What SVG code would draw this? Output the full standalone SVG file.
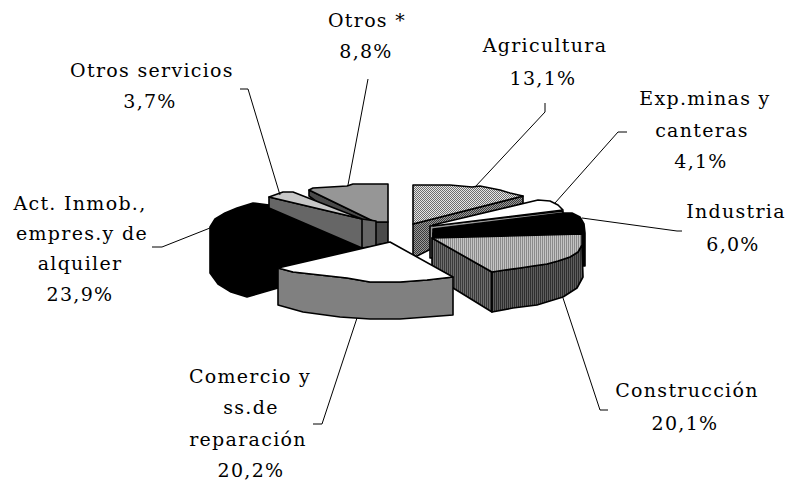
<svg xmlns="http://www.w3.org/2000/svg" width="790" height="484" viewBox="0 0 790 484">
<defs>
<pattern id="chkLight" width="2" height="2" patternUnits="userSpaceOnUse"><rect width="2" height="2" fill="#e6e6e6"/><rect width="1" height="1" fill="#6e6e6e"/><rect x="1" y="1" width="1" height="1" fill="#6e6e6e"/></pattern>
<pattern id="chkDark" width="2" height="2" patternUnits="userSpaceOnUse"><rect width="2" height="2" fill="#9a9a9a"/><rect width="1" height="1" fill="#3a3a3a"/><rect x="1" y="1" width="1" height="1" fill="#3a3a3a"/></pattern>
<pattern id="vLight" width="2" height="2" patternUnits="userSpaceOnUse"><rect width="2" height="2" fill="#c4c4c4"/><rect width="1" height="2" fill="#8a8a8a"/></pattern>
<pattern id="vDark" width="2" height="2" patternUnits="userSpaceOnUse"><rect width="2" height="2" fill="#6e6e6e"/><rect width="1" height="2" fill="#3a3a3a"/></pattern>
<pattern id="vDarker" width="2" height="2" patternUnits="userSpaceOnUse"><rect width="2" height="2" fill="#5e5e5e"/><rect width="1" height="2" fill="#2e2e2e"/></pattern>
</defs>
<style>
.o{stroke:#000;stroke-width:1.6;stroke-linejoin:round}
.t{font-family:"DejaVu Serif","Liberation Serif",serif;font-size:19px;letter-spacing:1.3px;fill:#000;text-anchor:middle}
.l{fill:none;stroke:#000;stroke-width:1}
</style>
<rect width="790" height="484" fill="#fff"/>

<g id="otros">
<polygon class="o" fill="#4a4a4a" points="309,190 375,222 388,222 388,243 375,245 309,196"/>
<line class="o" x1="375" y1="222" x2="375" y2="245"/>
<polygon class="o" fill="#969696" points="309,190 313,188 330,187 347,186 353,184 388,184 388,222 375,222"/>
</g>

<g id="agricultura">
<polygon class="o" fill="url(#chkDark)" points="413,224 523,196 523,203 413,258"/>
<polygon class="o" fill="url(#chkLight)" points="413,185 433,185 450,185 472,187 480,186 500,190 510,193 523,196 413,224"/>
</g>

<g id="exp-minas">
<polygon class="o" fill="#9a9a9a" points="430,226 563,211 563,216 433,233 433,258 430,258"/>
<polygon class="o" fill="#fff" points="433,225 538,200 550,201 558,205 563,210 433,226"/>
</g>

<g id="industria">
<polygon class="o" fill="#000" points="433,229 563,213 572,213 580,217 584,224 585,233 585,266 582,266 582,240 433,239"/>
</g>

<g id="construccion">
<polygon class="o" fill="url(#vDark)" points="432,238 492,272 492,312 432,275"/>
<polygon class="o" fill="url(#vDarker)" points="492,272 505,270 520,268 533,266 547,264 558,261 570,257 578,252 582,245 583,277 577,288 563,297 550,301 537,305 513,308 492,312"/>
<polyline fill="none" stroke="#fff" stroke-width="1.2" points="494,314 513,310 537,307 551,303 565,299 579,290 585,278 585,268"/>
<polygon class="o" fill="url(#vLight)" points="432,238 582,234 582,245 578,252 570,257 558,261 547,264 533,266 520,268 505,270 492,272"/>
</g>

<g id="act-inmob">
<polygon class="o" fill="#000" points="210,227 215,219 225,213 237,208 253,203 269,205 362,232 362,249 278,268 278,288 247,297 231,292 218,284 210,273"/>
</g>

<g id="otros-servicios">
<polygon class="o" fill="#666" points="269,197 362,219 376,221 376,246 362,248 269,208"/>
<line class="o" x1="362" y1="219" x2="362" y2="248"/>
<polygon class="o" fill="#c8c8c8" points="269,197 283,192 293,192 362,219"/>
</g>

<g id="comercio">
<polygon class="o" fill="#808080" points="278,268 293,272 320,275 347,278 370,282 400,282 427,280 453,277 453,315 427,317 400,319 370,319 340,317 303,312 278,305"/>
<polygon class="o" fill="#fff" points="278,268 390,242 453,277 427,280 400,282 370,282 347,278 320,275 293,272"/>
</g>

<g id="connectors">
<path class="l" d="M240,89 H248 L280,195"/>
<path class="l" d="M368,79 L348,185"/>
<path class="l" d="M545,103 V112 L475,187"/>
<path class="l" d="M627,132 H618 L555,203"/>
<path class="l" d="M582,218 L677,231 H682"/>
<path class="l" d="M152,247 H162 L210,228"/>
<path class="l" d="M563,298 L600,410 H608"/>
<path class="l" d="M357,318 L322,424 H313"/>
</g>

<g id="labels">
<text class="t" x="367" y="27">Otros *</text>
<text class="t" x="366" y="58">8,8%</text>
<text class="t" x="152" y="77">Otros servicios</text>
<text class="t" x="150" y="108">3,7%</text>
<text class="t" x="545" y="52">Agricultura</text>
<text class="t" x="543" y="85">13,1%</text>
<text class="t" x="705" y="105">Exp.minas y</text>
<text class="t" x="702" y="137">canteras</text>
<text class="t" x="701" y="168">4,1%</text>
<text class="t" x="736" y="218">Industria</text>
<text class="t" x="733" y="251">6,0%</text>
<text class="t" x="80" y="210">Act. Inmob.,</text>
<text class="t" x="82" y="240">empres.y de</text>
<text class="t" x="80" y="270">alquiler</text>
<text class="t" x="80" y="301">23,9%</text>
<text class="t" x="250" y="383">Comercio y</text>
<text class="t" x="251" y="414">ss.de</text>
<text class="t" x="248" y="446">reparación</text>
<text class="t" x="251" y="477">20,2%</text>
<text class="t" x="687" y="397">Construcción</text>
<text class="t" x="685" y="430">20,1%</text>
</g>
</svg>
